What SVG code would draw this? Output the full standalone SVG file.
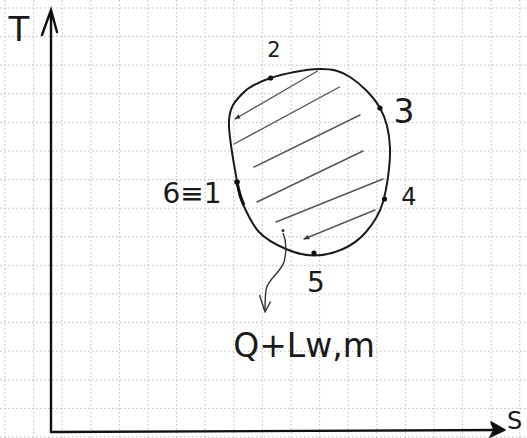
<svg xmlns="http://www.w3.org/2000/svg" width="527" height="438" viewBox="0 0 527 438">
<style>
.grid line{stroke:#bdbdbd;stroke-width:1;stroke-dasharray:1.5 2.5}
.axis{stroke:#111;stroke-width:2.4;fill:none;stroke-linecap:round}
.cycle{stroke:#1a1a1a;stroke-width:2;fill:none}
.hatch{stroke:#555;stroke-width:1.4;fill:none;stroke-linecap:round}
.lbl{font-family:"DejaVu Sans","Liberation Sans",sans-serif;fill:#1a1a1a}
.dot{fill:#111}
</style>
<defs>
<marker id="ah" viewBox="0 0 10 10" refX="9" refY="5" markerWidth="6" markerHeight="6" orient="auto" markerUnits="userSpaceOnUse">
<path d="M0,1 L10,5 L0,9 z" fill="#333"/>
</marker>
</defs>
<rect width="527" height="438" fill="#ffffff"/>
<g class="grid">
<line x1="5" y1="0" x2="5" y2="438"/><line x1="33.6" y1="0" x2="33.6" y2="438"/><line x1="62.2" y1="0" x2="62.2" y2="438"/><line x1="90.8" y1="0" x2="90.8" y2="438"/><line x1="119.4" y1="0" x2="119.4" y2="438"/><line x1="148" y1="0" x2="148" y2="438"/><line x1="176.6" y1="0" x2="176.6" y2="438"/><line x1="205.2" y1="0" x2="205.2" y2="438"/><line x1="233.8" y1="0" x2="233.8" y2="438"/><line x1="262.4" y1="0" x2="262.4" y2="438"/><line x1="291" y1="0" x2="291" y2="438"/><line x1="319.6" y1="0" x2="319.6" y2="438"/><line x1="348.2" y1="0" x2="348.2" y2="438"/><line x1="376.8" y1="0" x2="376.8" y2="438"/><line x1="405.4" y1="0" x2="405.4" y2="438"/><line x1="434" y1="0" x2="434" y2="438"/><line x1="462.6" y1="0" x2="462.6" y2="438"/><line x1="491.2" y1="0" x2="491.2" y2="438"/><line x1="519.8" y1="0" x2="519.8" y2="438"/>
<line x1="0" y1="8" x2="527" y2="8"/><line x1="0" y1="36.6" x2="527" y2="36.6"/><line x1="0" y1="65.2" x2="527" y2="65.2"/><line x1="0" y1="93.8" x2="527" y2="93.8"/><line x1="0" y1="122.4" x2="527" y2="122.4"/><line x1="0" y1="151" x2="527" y2="151"/><line x1="0" y1="179.6" x2="527" y2="179.6"/><line x1="0" y1="208.2" x2="527" y2="208.2"/><line x1="0" y1="236.8" x2="527" y2="236.8"/><line x1="0" y1="265.4" x2="527" y2="265.4"/><line x1="0" y1="294" x2="527" y2="294"/><line x1="0" y1="322.6" x2="527" y2="322.6"/><line x1="0" y1="351.2" x2="527" y2="351.2"/><line x1="0" y1="379.8" x2="527" y2="379.8"/><line x1="0" y1="408.4" x2="527" y2="408.4"/><line x1="0" y1="437" x2="527" y2="437"/>
</g>
<g id="connectors">
<path id="t-axis" class="axis" d="M51,432 L51,10 M42,35 L51,10 L57,32"/>
<path id="s-axis" class="axis" d="M51,432 L502,430"/>
<path d="M505,430 L491,422 L494,430 L490,437 z" fill="#111" stroke="#111" stroke-width="1.5" stroke-linejoin="round"/>
<path id="cycle" class="cycle" d="M242,94 C248.9,86.8 257.8,82.2 270.6,78 C283.4,73.8 305.8,69.2 319,69 C332.2,68.8 339.8,70.5 350,77 C360.2,83.5 373.3,96.2 380,108 C386.7,119.8 389.5,132.3 390,148 C390.5,163.7 387,188 383,202 C379,216 372.7,224.2 366,232 C359.3,239.8 351.7,245.1 343,249 C334.3,252.9 323.5,255.5 314,255.5 C304.5,255.5 295.2,252.9 286,249 C276.8,245.1 266.3,239.8 259,232 C251.7,224.2 245.7,210.4 242,202 C238.3,193.6 239.2,195 237,181.5 C234.8,168 228.2,135.6 229,121 C229.8,106.4 235.1,101.2 242,94 Z"/>
<path d="M237,182 C239,192 241,199 244,205" stroke="#111" stroke-width="3" fill="none"/>
<g id="hatching">
<path class="hatch" d="M317.5,71 L235,119" marker-end="url(#ah)"/>
<path class="hatch" d="M339.5,87 L234,144"/>
<path class="hatch" d="M360,115 L254,167"/>
<path class="hatch" d="M363,151 L257,202"/>
<path class="hatch" d="M383,179 L276,222"/>
<path class="hatch" d="M375,210 L304,239" marker-end="url(#ah)"/>
</g>
<circle cx="283" cy="230.5" r="1.5" fill="#333"/>
<path id="heat-out" d="M283,233 C286,240 287,250 284,262 C281,272 267,280 266,290 C265,298 265,305 265,311" stroke="#333" stroke-width="1.4" fill="none"/>
<path d="M259.5,295 L265,312 L270.5,301.5" stroke="#333" stroke-width="1.4" fill="none" stroke-linejoin="round"/>
</g>
<g id="axis-T"><text class="lbl" x="19" y="41" font-size="34" text-anchor="middle">T</text></g>
<g id="axis-S"><text class="lbl" x="507" y="429" font-size="24">S</text></g>
<g id="state-2"><circle class="dot" cx="270.6" cy="78" r="2.6"/><text class="lbl" x="274" y="57" font-size="21" text-anchor="middle">2</text></g>
<g id="state-3"><circle class="dot" cx="380" cy="108" r="2.6"/><text class="lbl" x="404" y="123" font-size="33" text-anchor="middle">3</text></g>
<g id="state-4"><circle class="dot" cx="384.5" cy="199" r="2.6"/><text class="lbl" x="409" y="205" font-size="24" text-anchor="middle">4</text></g>
<g id="state-5"><circle class="dot" cx="314" cy="253" r="2.6"/><text class="lbl" x="316" y="292" font-size="28" text-anchor="middle">5</text></g>
<g id="state-1"><circle class="dot" cx="237" cy="182" r="2.8"/><text class="lbl" x="192" y="203" font-size="28" text-anchor="middle">6≡1</text></g>
<g id="heat-label"><text class="lbl" x="304" y="357" font-size="33" text-anchor="middle">Q+Lw,m</text></g>
</svg>
